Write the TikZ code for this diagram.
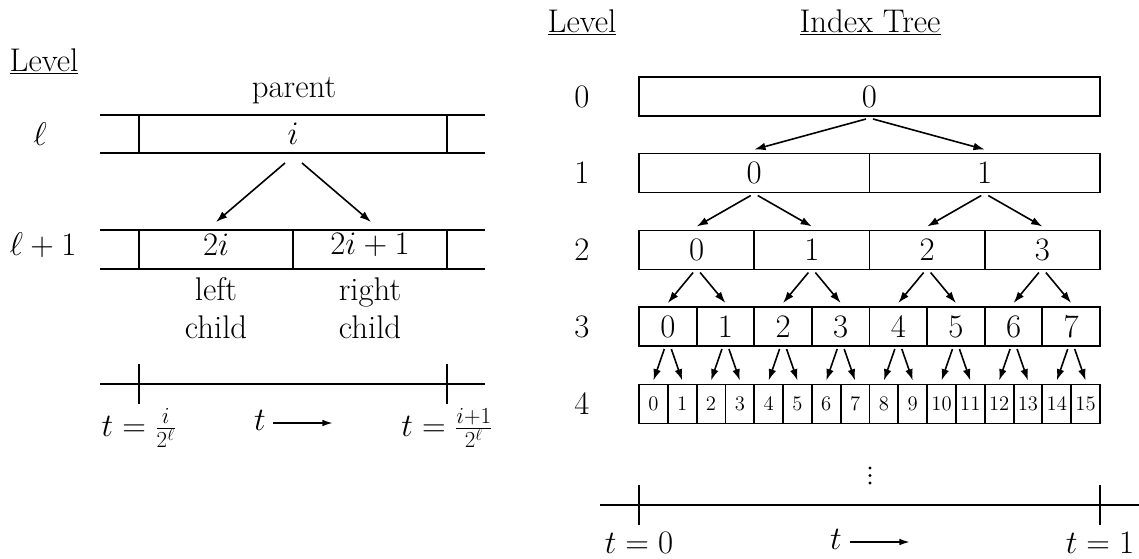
\documentclass[tikz,border=0pt]{standalone}
\usepackage{fix-cm}
\usetikzlibrary{arrows.meta,calc}
\newcommand\bigtxt{\fontsize{24.6}{29}\selectfont}
\newcommand\smalltxt{\fontsize{15.5}{18}\selectfont}
\begin{document}
\begin{tikzpicture}[x=0.75pt,y=-0.75pt,
  every node/.style={font=\bigtxt, inner sep=0pt, outer sep=0pt},
  cellbox/.style={draw, line width=1.4pt, minimum height=29.25pt, inner sep=0pt},
  rule/.style={line width=1.4pt},
  arr/.style={line width=1.2pt, -{Latex[length=8.5pt,width=5.8pt]}},
  tarr/.style={line width=1.3pt, -{Latex[length=8pt,width=5pt]}},
  lbl/.style={anchor=base}]
\useasboundingbox (0,0) rectangle (1139,558);

% ---------------- left part ----------------
\node[lbl] (levL) at (44,71) {\underline{Level}};
\node[lbl] (parentlbl) at (294,97) {parent};
\node (ell) at (40,134) {$\ell$};
\node[yshift=3.4pt] (ellp) at (43,249.5) {$\ell+1$};

\node[cellbox, minimum width=231pt, minimum height=28.5pt] (par) at (293,134) {$i$};
\node[cellbox, minimum width=115.5pt] (lc) at (216,249.5) {};
\node[cellbox, minimum width=115.5pt] (rc) at (370,249.5) {};
\node[yshift=3.4pt] (lct) at (lc) {$2i$};
\node[yshift=3.4pt] (rct) at (rc) {$2i+1$};

\coordinate (ptl) at (100,115);
\coordinate (pbl) at (100,153);
\coordinate (ptr) at (485,115);
\coordinate (pbr) at (485,153);
\coordinate (ctl) at (100,230);
\coordinate (cbl) at (100,269);
\coordinate (ctr) at (485,230);
\coordinate (cbr) at (485,269);
\draw[rule] (ptl) -- (par.north west) (pbl) -- (par.south west)
            (par.north east) -- (ptr) (par.south east) -- (pbr);
\draw[rule] (ctl) -- (lc.north west) (cbl) -- (lc.south west)
            (rc.north east) -- (ctr) (rc.south east) -- (cbr);

\draw[arr] ($(par.south)+(-8,10)$) -- ($(lc.north)+(0,-8)$);
\draw[arr] ($(par.south)+(9,10)$) -- ($(rc.north)+(1,-8)$);

\node[lbl] (leftlbl) at (216,300) {left};
\node[lbl] (rightlbl) at (370,300) {right};
\node[lbl] (lchild) at (216,338) {child};
\node[lbl] (rchild) at (370,338) {child};

\coordinate (la0) at (100,384);
\coordinate (la1) at (485,384);
\draw[rule] (la0) -- (la1);
\draw[rule] (139,364) -- (139,404) (447,364) -- (447,404);
\node[lbl] (tl0) at (139,436) {$t=\frac{i}{2^\ell}$};
\node[lbl] (tl1) at (447,436) {$t=\frac{i+1}{2^\ell}$};
\node[lbl] (tlt) at (260,430) {$t$};
\coordinate (tla0) at (273,423);
\coordinate (tla1) at (333,423);
\draw[tarr] (tla0) -- (tla1);

% ---------------- right part ----------------
\node[lbl] (levR) at (582,32) {\underline{Level}};
\node[lbl] (itree) at (870,32) {\underline{Index Tree}};

\foreach \L/\cy in {0/96.5,1/173,2/250,3/326.5} {
  \node (lv\L) at (582,\cy) {$\L$};
  \pgfmathtruncatemacro\nm{2^\L-1}
  \pgfmathsetmacro\w{461/(2^\L)}
  \foreach \k in {0,...,\nm} {
    \node[cellbox, minimum width=\w*0.75pt] (c\L-\k) at ({639+(\k+0.5)*\w},\cy) {$\k$};
  }
}
\node (lv4) at (582,404) {$4$};
\foreach \k in {0,...,15} {
  \node[cellbox, minimum width=21.6094pt, font=\smalltxt] (c4-\k) at ({639+(\k+0.5)*28.8125},404) {$\k$};
}

\foreach \L in {0,1,2,3} {
  \pgfmathtruncatemacro\nm{2^\L-1}
  \pgfmathtruncatemacro\Lp{\L+1}
  \foreach \k in {0,...,\nm} {
    \pgfmathtruncatemacro\a{2*\k}
    \pgfmathtruncatemacro\b{2*\k+1}
    \draw[arr] ($(c\L-\k.south)+(-3.5,3)$) -- ($(c\Lp-\a.north)+(0,-4)$);
    \draw[arr] ($(c\L-\k.south)+(3.5,3)$) -- ($(c\Lp-\b.north)+(0,-4)$);
  }
}

\foreach \yy in {468,475.5,483} \fill (870,\yy) circle[radius=1.15pt];

\coordinate (ra0) at (600,505);
\coordinate (ra1) at (1139,505);
\draw[rule] (ra0) -- (ra1);
\draw[rule] (639,485) -- (639,525) (1100,485) -- (1100,525);
\node[lbl] (tr0) at (639,553) {$t=0$};
\node[lbl] (tr1) at (1100,553) {$t=1$};
\node[lbl] (trt) at (836,549) {$t$};
\coordinate (tra0) at (850,542);
\coordinate (tra1) at (910,542);
\draw[tarr] (tra0) -- (tra1);
\end{tikzpicture}
\end{document}
